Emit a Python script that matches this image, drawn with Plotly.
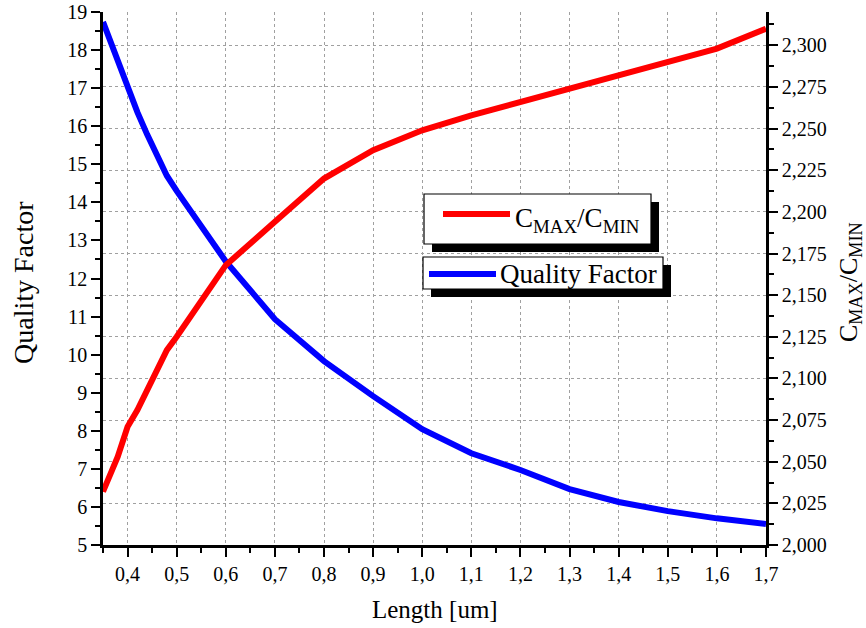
import plotly.graph_objects as go

# ---- data ----
length_um = [0.35, 0.36, 0.37, 0.38, 0.39, 0.40, 0.42, 0.44, 0.46, 0.48, 0.50,
             0.6, 0.7, 0.8, 0.9, 1.0, 1.1, 1.2, 1.3, 1.4, 1.5, 1.6, 1.7]
quality_factor = [18.74, 18.40, 18.02, 17.65, 17.33, 16.98, 16.37, 15.78, 15.22, 14.70, 14.30,
                  12.45, 10.93, 9.83, 8.91, 8.04, 7.41, 6.97, 6.47, 6.13, 5.89, 5.70, 5.55]
cmax_cmin = [2.032, 2.038, 2.046, 2.053, 2.062, 2.071, 2.081, 2.093, 2.105, 2.117, 2.125,
             2.168, 2.194, 2.220, 2.237, 2.249, 2.258, 2.266, 2.274, 2.282, 2.290, 2.298, 2.310]

series_names = ["C<sub>MAX</sub>/C<sub>MIN</sub>", "Quality Factor"]
x_title = "Length [um]"
y_title = "Quality Factor"
y2_title = "C<sub>MAX</sub>/C<sub>MIN</sub>"

# ---- layout geometry (page pixels) ----
W, H = 866, 628
PLOT_L, PLOT_R, PLOT_T, PLOT_B = 103, 766, 12, 545   # plot area in page pixels
L, T, R, B = PLOT_L, PLOT_T, W - PLOT_R, H - PLOT_B
PW, PH = PLOT_R - PLOT_L, PLOT_B - PLOT_T


def px(x):
    return (x - PLOT_L) / PW


def py(y):
    return (PLOT_B - y) / PH


FONT = "Liberation Serif"

fig = go.Figure()
fig.add_trace(go.Scatter(x=length_um, y=quality_factor, mode="lines",
                         line=dict(color="#0000FF", width=6), name=series_names[1],
                         yaxis="y", showlegend=False))
fig.add_trace(go.Scatter(x=length_um, y=cmax_cmin, mode="lines",
                         line=dict(color="#FF0000", width=6), name=series_names[0],
                         yaxis="y2", showlegend=False))

axis_common = dict(showline=True, linecolor="black", linewidth=2.5, ticks="outside",
                   tickcolor="black", tickwidth=2, ticklen=9, automargin=False,
                   ticklabeloverflow="allow",
                   tickfont=dict(family=FONT, size=20, color="black"), zeroline=False)

fig.update_layout(
    width=W, height=H,
    margin=dict(l=L, r=R, t=T, b=B, autoexpand=False),
    paper_bgcolor="white", plot_bgcolor="white",
    separators=", ",
    font=dict(family=FONT, color="black"),
    xaxis=dict(range=[0.35, 1.7], tick0=0, dtick=0.1, tickformat=".1f",
               showgrid=True, gridcolor="#a0a0a0", griddash="dot", gridwidth=1,
               minor=dict(dtick=0.05, tick0=0, ticklen=5, tickwidth=2, tickcolor="black", showgrid=False),
               **axis_common),
    yaxis=dict(range=[5, 19], dtick=1, showgrid=False,
               minor=dict(dtick=0.5, ticklen=5, tickwidth=2, tickcolor="black", showgrid=False),
               **axis_common),
    yaxis2=dict(range=[2.0, 2.32], dtick=0.025, tick0=2.0, tickformat=".3f",
                overlaying="y", side="right", anchor="x",
                showgrid=True, gridcolor="#a0a0a0", griddash="dot", gridwidth=1,
                minor=dict(dtick=0.0125, tick0=2.0, ticklen=5, tickwidth=2, tickcolor="black", showgrid=False),
                **axis_common),
)

shapes = []
annotations = []

# ---- axis titles ----
annotations.append(dict(xref="paper", yref="paper", x=px(435), y=py(609), text=x_title,
                        showarrow=False, xanchor="center", yanchor="middle",
                        font=dict(family=FONT, size=25, color="black")))
annotations.append(dict(xref="paper", yref="paper", x=px(23), y=py(283), text=y_title,
                        showarrow=False, xanchor="center", yanchor="middle", textangle=-90,
                        font=dict(family=FONT, size=28, color="black")))
annotations.append(dict(xref="paper", yref="paper", x=px(850), y=py(282), text=y2_title,
                        showarrow=False, xanchor="center", yanchor="middle", textangle=-90,
                        font=dict(family=FONT, size=26, color="black")))

# ---- legend boxes (two separate boxes with drop shadows) ----
legend_boxes = [
    # box x0, y0, x1, y1, shadow offset, line y, line x0, x1, text x, colour, name
    (424, 194, 651, 244, 8, 214, 443, 510, 513, "#FF0000", series_names[0]),
    (423, 257, 663, 289, 8, 274, 429, 496, 498, "#0000FF", series_names[1]),
]
for (x0, y0, x1, y1, off, ly, lx0, lx1, tx, col, name) in legend_boxes:
    shapes.append(dict(type="rect", xref="paper", yref="paper",
                       x0=px(x0 + off), x1=px(x1 + off), y0=py(y1 + off), y1=py(y0 + off),
                       fillcolor="black", line=dict(width=0), layer="above"))
    shapes.append(dict(type="rect", xref="paper", yref="paper",
                       x0=px(x0), x1=px(x1), y0=py(y1), y1=py(y0),
                       fillcolor="white", line=dict(color="black", width=1.2), layer="above"))
    shapes.append(dict(type="line", xref="paper", yref="paper",
                       x0=px(lx0), x1=px(lx1), y0=py(ly), y1=py(ly),
                       line=dict(color=col, width=6), layer="above"))
    annotations.append(dict(xref="paper", yref="paper", x=px(tx), y=py((y0 + y1) / 2 + 1),
                            text=name, showarrow=False, xanchor="left", yanchor="middle",
                            font=dict(family=FONT, size=27, color="black")))

fig.update_layout(shapes=shapes, annotations=annotations)

fig.write_html("out.html", config={"displayModeBar": False},
               post_script="document.body.style.margin='0';document.body.style.padding='0';")
